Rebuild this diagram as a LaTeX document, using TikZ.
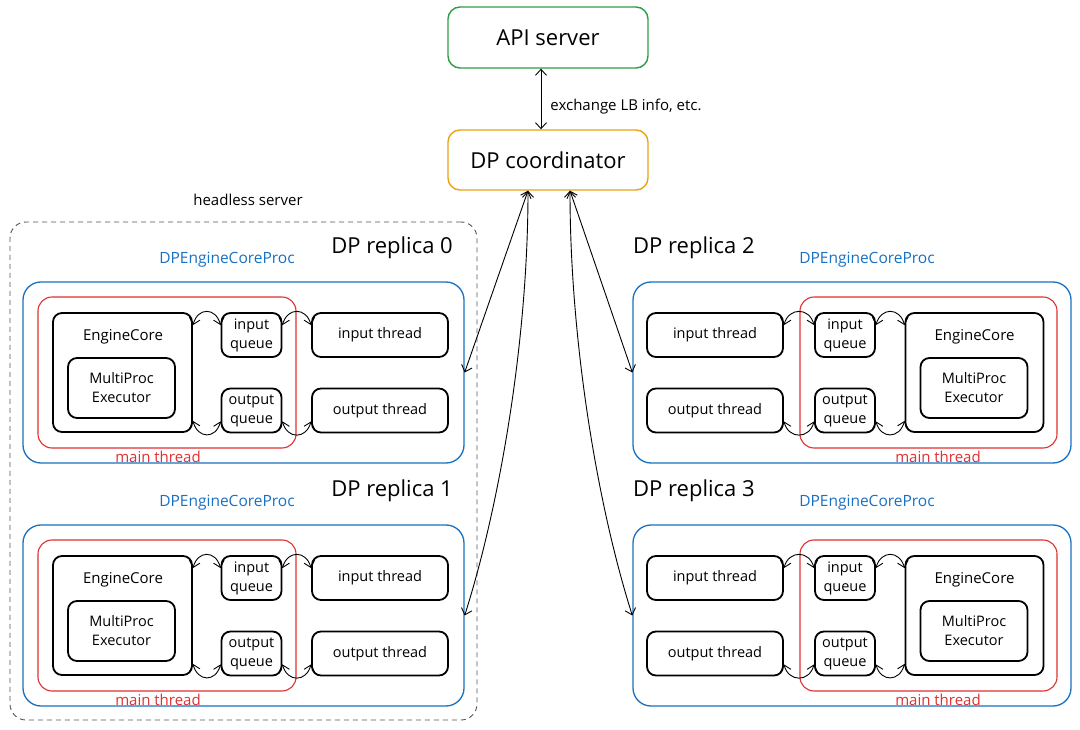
\documentclass[tikz,border=0pt]{standalone}
\usepackage{fontspec}
\setmainfont{Open Sans}
\usetikzlibrary{arrows.meta,calc}
\definecolor{exgreen}{HTML}{2F9E44}
\definecolor{exorange}{HTML}{E8A317}
\definecolor{exblue}{HTML}{1971C2}
\definecolor{exred}{HTML}{E03131}
\definecolor{exgray}{HTML}{555555}
\tikzset{
  box/.style={draw=black, line width=1.8pt, rounded corners=9pt, inner sep=0pt, align=center, font=\fontsize{14.5}{19}\selectfont},
  qbox/.style={box, minimum width=60pt, minimum height=44pt},
  tbox/.style={box, minimum width=136pt, minimum height=44pt},
  bluebox/.style={draw=exblue, line width=1.3pt, rounded corners=18pt, inner sep=0pt},
  redbox/.style={draw=exred, line width=1.1pt, rounded corners=14pt, inner sep=0pt},
  topbox/.style={line width=1.4pt, rounded corners=12pt, inner sep=0pt, font=\fontsize{22}{24}\selectfont, minimum width=200pt},
  arr/.style={{Straight Barb[length=6pt,width=11pt]}-{Straight Barb[length=6pt,width=11pt]}, line width=0.9pt},
  txt/.style={inner sep=0pt, font=\fontsize{15}{18}\selectfont},
  titletxt/.style={inner sep=0pt, font=\fontsize{22}{24}\selectfont},
  proctxt/.style={inner sep=0pt, text=exblue, font=\fontsize{15.5}{18}\selectfont},
  maintxt/.style={inner sep=0pt, text=exred, font=\fontsize{15}{18}\selectfont},
}
\newcommand\LeftRep[3]{%
\begin{scope}[shift={(0,#2)}, name prefix=#1-]
  \node[bluebox, minimum width=441pt, minimum height=181pt] (blue) at (243.5,372.5) {};
  \node[redbox, minimum width=258pt, minimum height=151pt] (red) at (167,372.5) {};
  \node[box, minimum width=139pt, minimum height=119pt] (ec) at (122.5,372.5) {};
  \node[txt] (ect) at (123,337) {EngineCore};
  \node[box, minimum width=107pt, minimum height=60pt] (mp) at (121.5,388) {MultiProc\\Executor};
  \node[qbox] (iq) at (251.5,335) {input\\queue};
  \node[qbox] (oq) at (251.5,410.5) {output\\queue};
  \node[tbox] (it) at (380,335) {input thread};
  \node[tbox] (ot) at (380,410.5) {output thread};
  \node[titletxt, anchor=east] (ttl) at (453,248) {DP replica #3};
  \node[proctxt] (pl) at (227,260) {DPEngineCoreProc};
  \node[maintxt] (ml) at (158,457) {main thread};
  \draw[arr] ([yshift=-13pt]ec.north east) .. controls +(5,-18) and +(-5,-18) .. ([yshift=-13pt]iq.north west);
  \draw[arr] ([yshift=-13pt]iq.north east) .. controls +(5,-18) and +(-5,-18) .. ([yshift=-13pt]it.north west);
  \draw[arr] ([yshift=12pt]ec.south east) .. controls +(5,18) and +(-5,18) .. ([yshift=12pt]oq.south west);
  \draw[arr] ([yshift=12pt]oq.south east) .. controls +(5,18) and +(-5,18) .. ([yshift=12pt]ot.south west);
\end{scope}}
\newcommand\RightRep[3]{%
\begin{scope}[shift={(0,#2)}, name prefix=#1-]
  \node[bluebox, minimum width=438pt, minimum height=181pt] (blue) at (852,372.5) {};
  \node[redbox, minimum width=257pt, minimum height=151pt] (red) at (928.5,372.5) {};
  \node[box, minimum width=138pt, minimum height=119pt] (ec) at (974.5,372.5) {};
  \node[txt] (ect) at (974.5,337) {EngineCore};
  \node[box, minimum width=107pt, minimum height=60pt] (mp) at (974,388) {MultiProc\\Executor};
  \node[qbox] (iq) at (845,335) {input\\queue};
  \node[qbox] (oq) at (845,410.5) {output\\queue};
  \node[tbox] (it) at (715,335) {input thread};
  \node[tbox] (ot) at (715,410.5) {output thread};
  \node[titletxt, anchor=west] (ttl) at (633,248) {DP replica #3};
  \node[proctxt] (pl) at (867,260) {DPEngineCoreProc};
  \node[maintxt] (ml) at (938,457) {main thread};
  \draw[arr] ([yshift=-13pt]it.north east) .. controls +(5,-18) and +(-5,-18) .. ([yshift=-13pt]iq.north west);
  \draw[arr] ([yshift=-13pt]iq.north east) .. controls +(5,-18) and +(-5,-18) .. ([yshift=-13pt]ec.north west);
  \draw[arr] ([yshift=12pt]ot.south east) .. controls +(5,18) and +(-5,18) .. ([yshift=12pt]oq.south west);
  \draw[arr] ([yshift=12pt]oq.south east) .. controls +(5,18) and +(-5,18) .. ([yshift=12pt]ec.south west);
\end{scope}}
\begin{document}
\begin{tikzpicture}[x=1pt,y=-1pt]
  \useasboundingbox[fill=white] (0,0) rectangle (1080,730);
  \node[topbox, draw=exgreen, minimum height=61pt] (api) at (548,37.5) {API server};
  \node[topbox, draw=exorange, minimum height=60pt] (dp) at (548,160) {DP coordinator};
  \draw[arr] ([xshift=-7pt]api.south) -- node[txt, right=9pt, pos=0.62] (lb) {exchange LB info, etc.} ([xshift=-7pt]dp.north);
  \node[txt] (hs) at (248,200) {headless server};
  \node[draw=exgray, dashed, dash pattern=on 5pt off 4pt, line width=0.9pt, rounded corners=16pt, minimum width=467pt, minimum height=498pt, inner sep=0pt] (hl) at (243.5,471) {};
  \LeftRep{r0}{0}{0}
  \LeftRep{r1}{243}{1}
  \RightRep{r2}{0}{2}
  \RightRep{r3}{243}{3}
  \draw[arr] ([xshift=-20pt]dp.south) -- (r0-blue.east);
  \draw[arr] ([xshift=-20pt]dp.south) .. controls +(0,150) and +(35,-110) .. (r1-blue.east);
  \draw[arr] ([xshift=22pt]dp.south) -- (r2-blue.west);
  \draw[arr] ([xshift=22pt]dp.south) .. controls +(0,150) and +(-35,-110) .. (r3-blue.west);
\end{tikzpicture}
\end{document}
